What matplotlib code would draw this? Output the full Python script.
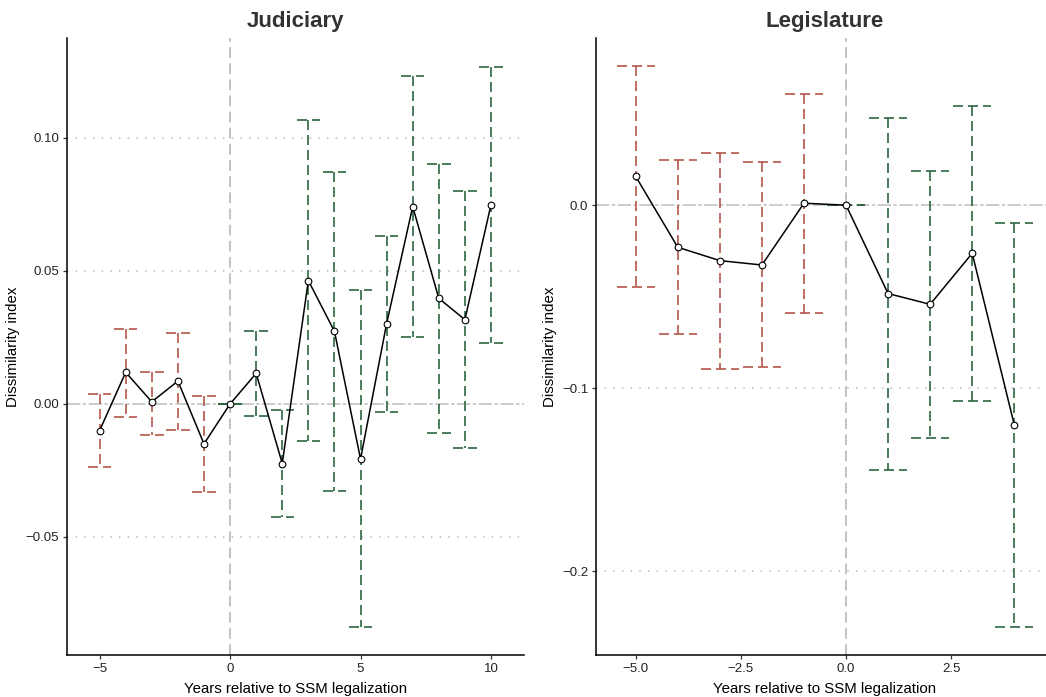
import matplotlib
matplotlib.use("Agg")
import matplotlib.pyplot as plt
from matplotlib.ticker import FuncFormatter

plt.rcParams['font.family'] = ['Liberation Sans', 'DejaVu Sans']

# Judiciary panel
jud_years = [-5, -4, -3, -2, -1, 0, 1, 2, 3, 4, 5, 6, 7, 8, 9, 10]
jud_est = [-0.0100, 0.0119, 0.0008, 0.0086, -0.0150, 0.0, 0.0115, -0.0224,
           0.0464, 0.0273, -0.0207, 0.0302, 0.0742, 0.0397, 0.0317, 0.0749]
jud_hi = [0.0036, 0.0282, 0.0121, 0.0268, 0.0029, 0.0, 0.0276, -0.0024,
          0.1066, 0.0872, 0.0427, 0.0633, 0.1232, 0.0902, 0.0802, 0.1268]
jud_lo = [-0.0236, -0.0048, -0.0115, -0.0097, -0.0331, 0.0, -0.0045, -0.0425,
          -0.0138, -0.0328, -0.0838, -0.0030, 0.0252, -0.0108, -0.0167, 0.0229]

# Legislature panel
leg_years = [-5, -4, -3, -2, -1, 0, 1, 2, 3, 4]
leg_est = [0.0157, -0.0230, -0.0303, -0.0327, 0.0011, 0.0, -0.0483, -0.0542, -0.0263, -0.1200]
leg_hi = [0.0761, 0.0246, 0.0288, 0.0234, 0.0608, 0.0, 0.0476, 0.0188, 0.0544, -0.0095]
leg_lo = [-0.0449, -0.0706, -0.0896, -0.0887, -0.0591, 0.0, -0.1445, -0.1271, -0.1073, -0.2306]

RED = "#B4564A"
GREEN = "#2B6640"
GREY = "#C2C2C2"
CAP = 0.45


def minus_fmt(fmt):
    return FuncFormatter(lambda v, p: (fmt % v).replace("-", "\u2212"))


def panel(ax, title, years, est, lo, hi, xticks, xfmt, yticks, yfmt, xlim, ylim):
    for yt in yticks:
        if yt != 0:
            ax.axhline(yt, color=GREY, lw=1.3, ls=(0, (0.8, 4.0)), zorder=1)
    ax.axvline(0, color=GREY, lw=1.4, ls=(0, (5.5, 2.8)), zorder=1)
    ax.axhline(0, color=GREY, lw=1.2, ls=(0, (8, 1.5, 2, 1.5)), zorder=1)

    for x, l, h in zip(years, lo, hi):
        c = RED if x < 0 else GREEN
        kw = dict(color=c, lw=1.2, ls=(0, (6, 3)), zorder=2)
        ax.plot([x - CAP, x + CAP], [h, h], **kw)
        ax.plot([x, x], [h, l], **kw)
        ax.plot([x - CAP, x + CAP], [l, l], **kw)

    ax.plot(years, est, color="black", lw=1.1, zorder=3)
    ax.plot(years, est, ls="none", marker="o", ms=4.8, mfc="white", mec="black",
            mew=0.8, zorder=4)

    ax.set_xlim(*xlim)
    ax.set_ylim(*ylim)
    ax.set_xticks(xticks)
    ax.set_yticks(yticks)
    ax.xaxis.set_major_formatter(minus_fmt(xfmt))
    ax.yaxis.set_major_formatter(minus_fmt(yfmt))
    for s in ["top", "right"]:
        ax.spines[s].set_visible(False)
    for s in ["left", "bottom"]:
        ax.spines[s].set_linewidth(1.1)
    ax.tick_params(length=3, width=0.9, color="#333333", labelsize=9.5,
                   labelcolor="#222222", pad=2.5)
    ax.set_title(title, fontsize=16, fontweight="bold", color="#333333", pad=8)
    ax.set_xlabel("Years relative to SSM legalization", fontsize=10.8, labelpad=5)
    ax.set_ylabel("Dissimilarity index", fontsize=10.8, labelpad=4)


W, H = 1046, 697
fig = plt.figure(figsize=(W / 100, H / 100), dpi=100)
ax1 = fig.add_axes([67 / W, 42 / H, (523.6 - 67) / W, (655 - 38) / H])
ax2 = fig.add_axes([596 / W, 42 / H, (1054 - 596) / W, (655 - 38) / H])

panel(ax1, "Judiciary", jud_years, jud_est, jud_lo, jud_hi,
      [-5, 0, 5, 10], "%d", [-0.05, 0.0, 0.05, 0.10], "%.2f",
      (-6.25, 11.25), (-0.0944, 0.1376))
panel(ax2, "Legislature", leg_years, leg_est, leg_lo, leg_hi,
      [-5.0, -2.5, 0.0, 2.5], "%.1f", [-0.2, -0.1, 0.0], "%.1f",
      (-5.945, 4.945), (-0.2459, 0.0914))

fig.savefig("out.png", dpi=100)
